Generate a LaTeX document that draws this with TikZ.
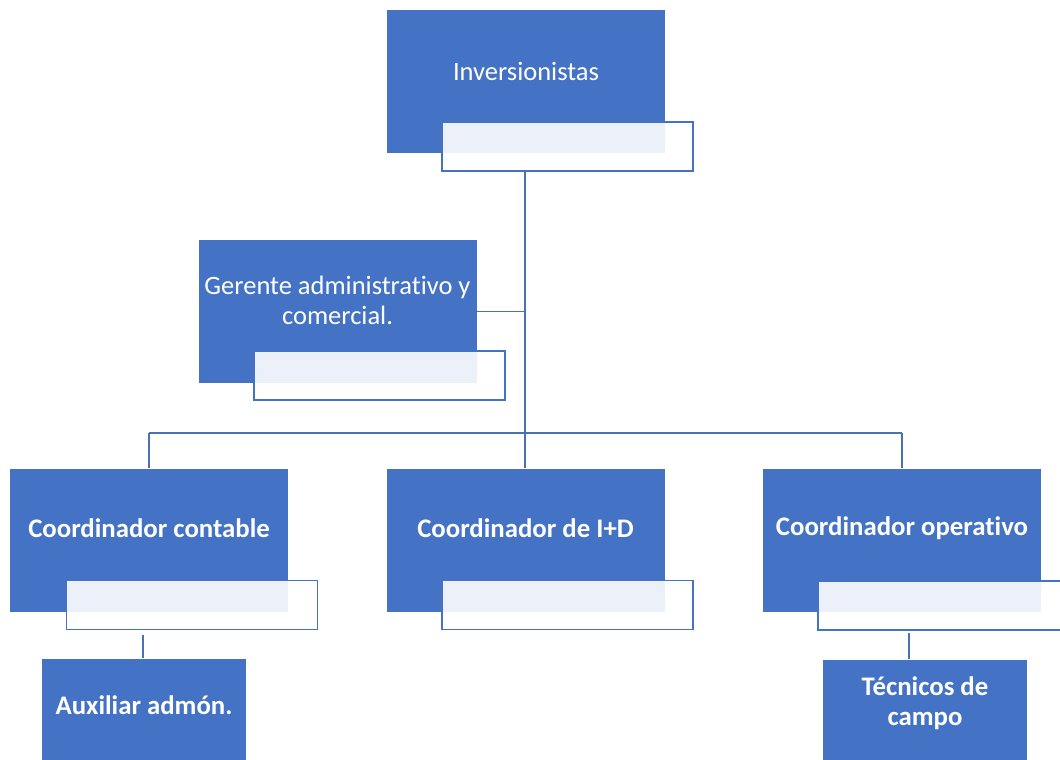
\documentclass[tikz,border=0pt]{standalone}
\usepackage{fontspec}
\setmainfont[Ligatures={NoCommon}]{Carlito}
\definecolor{boxblue}{HTML}{4472C4}
\definecolor{lineblue}{HTML}{4A70B8}
\begin{document}
\begin{tikzpicture}[x=1pt,y=-1pt,
  rolebox/.style={draw=white,line width=0.6pt,fill=boxblue,minimum width=279pt,minimum height=144pt,inner sep=0pt,outer sep=0pt},
  smallbox/.style={draw=white,line width=0.6pt,fill=boxblue,minimum width=205pt,minimum height=130pt,inner sep=0pt,outer sep=0pt},
  tagbox/.style={draw=boxblue,line width=1.2pt,fill=white,fill opacity=0.9,minimum width=251pt,minimum height=49pt,inner sep=0pt,outer sep=0pt},
  lbl/.style={text=white,font=\fontsize{26.5}{30}\selectfont,align=center,inner sep=0pt},
  blbl/.style={lbl,font=\fontsize{26.8}{30}\selectfont\bfseries},
  conn/.style={draw=lineblue,line width=1.4pt}]
\useasboundingbox (0,0) rectangle (1060,760);
\clip (0,0) rectangle (1060,760);
\fill[white] (0,0) rectangle (1060,760);

% boxes
\node[rolebox] (inv) at (525.5,81.5) {};
\node[tagbox] (invt) at (567.5,146.5) {};
\node[lbl] (invl) at (526,71) {Inversionistas};

\node[rolebox] (ger) at (337.5,311.5) {};
\node[tagbox] (gert) at (379.5,375.5) {};
\node[lbl] (gerl) at (337.5,300) {Gerente administrativo y\\comercial.};

\node[rolebox] (con) at (149,540) {};
\node[tagbox] (cont) at (192,605) {};
\node[blbl] (conl) at (149,528) {Coordinador contable};

\node[rolebox] (idd) at (525.5,540) {};
\node[tagbox] (iddt) at (567.5,605) {};
\node[blbl] (iddl) at (525.5,528) {Coordinador de I+D};

\node[rolebox] (ope) at (902,540) {};
\node[tagbox] (opet) at (943.5,605.5) {};
\node[blbl] (opel) at (902,528) {Coordinador operativo};

\node[smallbox] (aux) at (144,723) {};
\node[blbl] (auxl) at (144,705) {Auxiliar admón.};

\node[smallbox] (tec) at (925,724) {};
\node[blbl] (tecl) at (925,703) {Técnicos de\\campo};

% connectors
\coordinate (hub) at (525,433);
\coordinate (busl) at (149,433);
\coordinate (busr) at (902,433);
\coordinate (ax) at (143,635);
\coordinate (tx) at (909,633);
\draw[conn] (invt.south -| hub) -- (idd.north -| hub);
\draw[conn] (ger.east) -- (ger.east -| hub);
\draw[conn] (busl) -- (busr);
\draw[conn] (busl) -- (con.north -| busl);
\draw[conn] (busr) -- (ope.north -| busr);
\draw[conn] (ax) -- (aux.north -| ax);
\draw[conn] (tx) -- (tec.north -| tx);
\end{tikzpicture}
\end{document}
